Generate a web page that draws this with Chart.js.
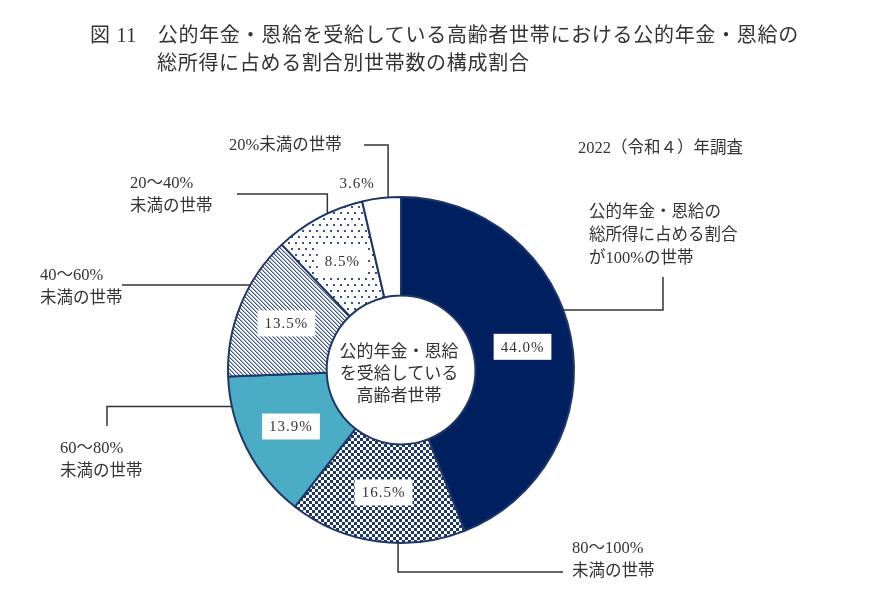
<!DOCTYPE html>
<html lang="ja">
<head>
<meta charset="utf-8">
<title>図11 公的年金・恩給の総所得に占める割合別世帯数の構成割合</title>
<script src="https://cdn.jsdelivr.net/npm/chart.js@4/dist/chart.umd.min.js"></script>
<style>
  html, body { margin: 0; padding: 0; background: #fff; }
  #wrap { position: relative; width: 870px; height: 607px; overflow: hidden; }
  #wrap canvas { position: absolute; left: 0; top: 0; }
  .t { position: absolute; color: #333; font-family: "Liberation Serif", "Noto Sans CJK JP", serif;
       font-size: 16.5px; line-height: 23px; white-space: nowrap; }
  .title { font-size: 20px; letter-spacing: 0.7px; line-height: 28px; color: #333; }
  .center { text-align: center; font-size: 17px; line-height: 22px; }
</style>
</head>
<body>
<div id="wrap">
  <canvas id="pie" width="870" height="607"></canvas>
  <div class="t title" style="left:90px; top:21px;">図 11　公的年金・恩給を受給している高齢者世帯における公的年金・恩給の</div>
  <div class="t title" style="left:157px; top:49px;">総所得に占める割合別世帯数の構成割合</div>
  <div class="t" style="left:578px; top:136px;">2022（令和４）年調査</div>
  <div class="t" style="left:589px; top:200px;">公的年金・恩給の<br>総所得に占める割合<br>が100%の世帯</div>
  <div class="t" style="left:229px; top:133px;">20%未満の世帯</div>
  <div class="t" style="left:130px; top:171px;">20～40%<br>未満の世帯</div>
  <div class="t" style="left:40px; top:263px;">40～60%<br>未満の世帯</div>
  <div class="t" style="left:60px; top:436px;">60～80%<br>未満の世帯</div>
  <div class="t" style="left:572px; top:536px;">80～100%<br>未満の世帯</div>
  <div class="t center" style="left:319px; top:341px; width:160px;">公的年金・恩給<br>を受給している<br>高齢者世帯</div>
</div>
<script>
// 公的年金・恩給の総所得に占める割合別 世帯数の構成割合（%）
const categories = ["100%", "80～100%未満", "60～80%未満", "40～60%未満", "20～40%未満", "20%未満"];
const shares = [44.0, 16.5, 13.9, 13.5, 8.5, 3.6];
const valueLabels = ["44.0%", "16.5%", "13.9%", "13.5%", "8.5%", "3.6%"];

const NAVY = "#002060";
const LINE = "#1f3768";

// 塗りパターン
function makePattern(w, h, draw) {
  const c = document.createElement("canvas");
  c.width = w; c.height = h;
  const g = c.getContext("2d");
  g.fillStyle = "#fff";
  g.fillRect(0, 0, w, h);
  draw(g);
  return g.createPattern(c, "repeat");
}
const checker = makePattern(6, 6, g => {
  g.fillStyle = "#1f3768";
  g.fillRect(0, 0, 3, 3);
  g.fillRect(3, 3, 3, 3);
});
const stripes = makePattern(4, 4, g => {
  for (let y = 0; y < 4; y++) {
    for (let x = 0; x < 4; x++) {
      const k = ((x - y) % 4 + 4) % 4;
      if (k === 0) { g.fillStyle = "#3a5188"; g.fillRect(x, y, 1, 1); }
      if (k === 1) { g.fillStyle = "#a3afcb"; g.fillRect(x, y, 1, 1); }
    }
  }
});
const dots = makePattern(7, 12, g => {
  g.fillStyle = "#3a5188";
  g.fillRect(1, 2, 2, 2);
  g.fillRect(4, 8, 2, 2);
});

// 引き出し線: at = 扇形内の位置(0-1), lx/ly = ラベル側の端, mode = 折れ方
const leaders = [
  { at: 0.44, lx: 663, ly: 277, mode: "vh" },
  { at: 0.38, lx: 563, ly: 572, mode: "hv" },
  { at: 0.80, lx: 107, ly: 426, mode: "vh" },
  { at: 0.65, lx: 122, ly: 0, mode: "h" },
  { at: 0.60, lx: 237, ly: 194, mode: "hv" },
  { at: 0.67, lx: 364, ly: 145, mode: "hv" }
];

const labelPlugin = {
  id: "labels",
  afterDatasetsDraw(chart) {
    const ctx = chart.ctx;
    const arcs = chart.getDatasetMeta(0).data;
    ctx.save();
    // 引き出し線
    ctx.strokeStyle = "#333";
    ctx.lineWidth = 1.5;
    arcs.forEach((arc, i) => {
      const L = leaders[i];
      const a = arc.startAngle + (arc.endAngle - arc.startAngle) * L.at;
      const ax = arc.x + arc.outerRadius * Math.cos(a);
      const ay = arc.y + arc.outerRadius * Math.sin(a);
      ctx.beginPath();
      if (L.mode === "vh") {
        ctx.moveTo(L.lx, L.ly); ctx.lineTo(L.lx, ay); ctx.lineTo(ax, ay);
      } else if (L.mode === "hv") {
        ctx.moveTo(L.lx, L.ly); ctx.lineTo(ax, L.ly); ctx.lineTo(ax, ay);
      } else {
        ctx.moveTo(L.lx, ay); ctx.lineTo(ax, ay);
      }
      ctx.stroke();
    });
    // 数値ラベル
    ctx.font = '15px "Liberation Serif", serif';
    ctx.letterSpacing = "1px";
    ctx.textAlign = "center";
    ctx.textBaseline = "middle";
    arcs.forEach((arc, i) => {
      let p;
      if (i === arcs.length - 1) {
        // 小さい扇形は外側に置く
        const a = -Math.PI / 2 - 0.23;
        p = { x: arc.x + 192 * Math.cos(a), y: arc.y + 192 * Math.sin(a) };
      } else {
        p = arc.tooltipPosition();
        const w = ctx.measureText(valueLabels[i]).width + 14;
        ctx.fillStyle = "#fff";
        ctx.fillRect(p.x - w / 2, p.y - 13, w, 26);
      }
      ctx.fillStyle = "#333";
      ctx.fillText(valueLabels[i], p.x, p.y + 1);
    });
    ctx.restore();
  }
};

new Chart(document.getElementById("pie"), {
  type: "doughnut",
  data: {
    labels: categories,
    datasets: [{
      data: shares,
      backgroundColor: [NAVY, checker, "#4bacc6", stripes, dots, "#ffffff"],
      borderColor: LINE,
      borderWidth: 2
    }]
  },
  options: {
    responsive: false,
    animation: false,
    cutout: "43%",
    layout: { padding: { left: 227, right: 295, top: 196, bottom: 63 } },
    plugins: { legend: { display: false }, tooltip: { enabled: false } }
  },
  plugins: [labelPlugin]
});
</script>
</body>
</html>
